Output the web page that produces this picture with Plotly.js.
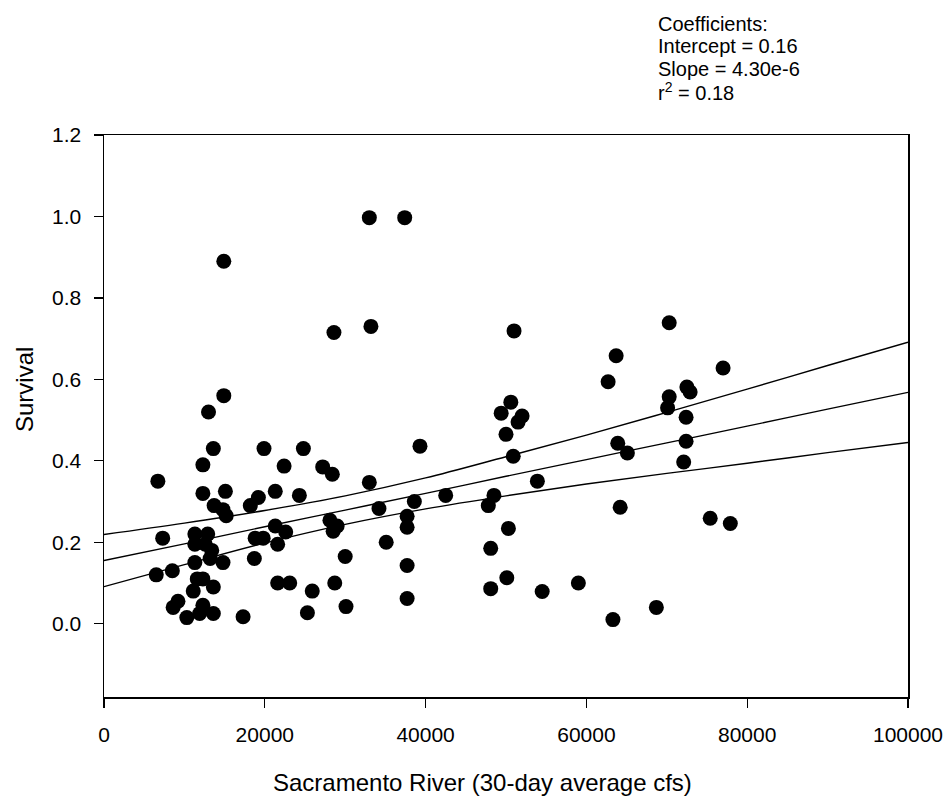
<!DOCTYPE html>
<html>
<head>
<meta charset="utf-8">
<script src="https://cdn.plot.ly/plotly-3.0.1.min.js"></script>
<style>html,body{margin:0;padding:0;background:#fff;}#chart{width:948px;height:801px;}</style>
</head>
<body>
<div id="chart"></div>
<script>
// Observed points: Sacramento River flow (cfs) vs survival
const flowCfs = [6700,7300,6500,8500,9200,8600,10300,11900,13600,12300,11100,11600,12300,13600,11300,13200,14800,11300,12600,13400,11300,12900,12300,12300,13600,13000,14900,14900,15100,13700,14800,15200,17300,18200,19200,19900,18800,19800,18700,21300,22600,21600,21300,22400,21600,23100,24300,24800,25900,25300,27200,28400,28100,29000,28500,28600,28700,30000,30100,33000,33000,33200,34200,35100,37400,37700,37700,37700,37700,38600,39300,42500,47800,48500,48100,48100,49400,50000,50300,50100,50600,50900,51000,51500,52000,53900,54500,59000,62700,63300,63700,63900,64200,65100,68700,70100,70300,70300,72100,72400,72400,72500,72900,75400,77000,77900];
const survival = [0.35,0.21,0.12,0.13,0.055,0.04,0.015,0.025,0.025,0.045,0.08,0.11,0.11,0.09,0.15,0.16,0.15,0.195,0.195,0.18,0.22,0.22,0.32,0.39,0.43,0.52,0.56,0.89,0.325,0.29,0.28,0.265,0.017,0.29,0.31,0.43,0.21,0.21,0.16,0.24,0.225,0.195,0.325,0.387,0.10,0.10,0.315,0.43,0.08,0.027,0.385,0.367,0.254,0.24,0.227,0.715,0.10,0.165,0.042,0.347,0.997,0.73,0.283,0.20,0.997,0.264,0.237,0.143,0.062,0.30,0.436,0.315,0.29,0.315,0.185,0.086,0.517,0.465,0.234,0.113,0.544,0.411,0.719,0.495,0.51,0.35,0.079,0.10,0.594,0.01,0.658,0.443,0.286,0.419,0.04,0.53,0.557,0.739,0.397,0.448,0.507,0.581,0.569,0.259,0.628,0.246];

// Regression line and confidence band
const bandX  = [0,10000,20000,30000,40000,50000,60000,70000,80000,90000,100000];
const fitY   = [0.155,0.196,0.238,0.279,0.320,0.362,0.403,0.444,0.485,0.527,0.568];
const upperY = [0.219,0.247,0.278,0.314,0.358,0.410,0.463,0.519,0.576,0.634,0.691];
const lowerY = [0.091,0.145,0.198,0.244,0.282,0.314,0.343,0.369,0.394,0.420,0.445];

const xTicks = [0,20000,40000,60000,80000,100000];
const yTicks = [0.0,0.2,0.4,0.6,0.8,1.0,1.2];

const coefLines = ["Coefficients:", "Intercept = 0.16", "Slope = 4.30e-6", "r<sup>2</sup> = 0.18"];
const xTitle = "Sacramento River (30-day average cfs)";
const yTitle = "Survival";

// layout geometry (pixels)
const W = 948, H = 801, ML = 104, MR = 40, MT = 135, MB = 104;
const PW = W - ML - MR, PH = H - MT - MB;
const px2x = p => (p - ML) / PW;
const py2y = p => (H - MB - p) / PH;

const lineStyle = {color:'#000', width:1.4, shape:'spline'};
const traces = [
  {x:bandX, y:upperY, mode:'lines', line:lineStyle, hoverinfo:'skip'},
  {x:bandX, y:fitY, mode:'lines', line:lineStyle, hoverinfo:'skip'},
  {x:bandX, y:lowerY, mode:'lines', line:lineStyle, hoverinfo:'skip'},
  {x:flowCfs, y:survival, mode:'markers', marker:{color:'#000', size:15}}
];

const fam = '"Liberation Sans", Arial, sans-serif';
const f = s => ({family:fam, size:s, color:'#000'});

const annotations = coefLines.map((t, i) => ({
  xref:'paper', yref:'paper', x:px2x(656), y:py2y(24 + i * 22.5),
  xanchor:'left', yanchor:'middle', align:'left', showarrow:false,
  text:t, font:f(20)
}));
annotations.push({
  xref:'paper', yref:'paper', x:px2x(482), y:py2y(782),
  xanchor:'center', yanchor:'middle', showarrow:false, text:xTitle, font:f(24)
});
annotations.push({
  xref:'paper', yref:'paper', x:px2x(24), y:py2y(390),
  xanchor:'center', yanchor:'middle', showarrow:false, textangle:-90, text:yTitle, font:f(24)
});

const axisCommon = {
  showgrid:false, zeroline:false,
  showline:true, mirror:true, linecolor:'#000', linewidth:1.5,
  ticks:'outside', ticklen:9, tickwidth:1.3, tickcolor:'#000',
  tickfont:f(21)
};

const layout = {
  width:W, height:H,
  margin:{l:ML, r:MR, t:MT, b:MB},
  paper_bgcolor:'#fff', plot_bgcolor:'#fff',
  showlegend:false,
  font:f(16),
  xaxis:Object.assign({range:[0,100000], tickvals:xTicks, tickformat:'d', ticklabelstandoff:9}, axisCommon),
  yaxis:Object.assign({range:[-0.18,1.2], tickvals:yTicks, tickformat:'.1f', ticklabelstandoff:8}, axisCommon),
  annotations:annotations
};

Plotly.newPlot('chart', traces, layout, {displayModeBar:false, staticPlot:true});
</script>
</body>
</html>
